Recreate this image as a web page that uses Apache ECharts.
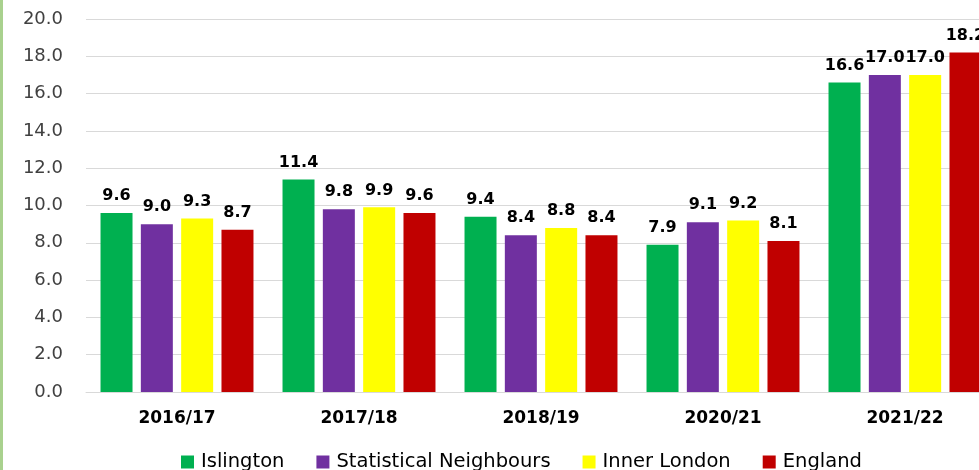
<!DOCTYPE html>
<html>
<head>
<meta charset="utf-8">
<script src="https://cdn.jsdelivr.net/npm/echarts@6/dist/echarts.min.js"></script>
<style>
  html, body { margin: 0; padding: 0; background: #fff; }
  #main { width: 979px; height: 470px; }
</style>
</head>
<body>
<div id="main"></div>
<script>
var years = ['2016/17', '2017/18', '2018/19', '2020/21', '2021/22'];
var islington = [9.6, 11.4, 9.4, 7.9, 16.6];
var statNeighbours = [9.0, 9.8, 8.4, 9.1, 17.0];
var innerLondon = [9.3, 9.9, 8.8, 9.2, 17.0];
var england = [8.7, 9.6, 8.4, 8.1, 18.2];

var font = 'DejaVu Sans';

function bar(name, data, color) {
    return {
        name: name,
        type: 'bar',
        data: data,
        barWidth: 32,
        barGap: '26%',
        itemStyle: { color: color },
        label: {
            show: true,
            position: 'top',
            distance: 9,
            formatter: function (p) { return p.value.toFixed(1); },
            fontFamily: font,
            fontWeight: 'bold',
            fontSize: 16,
            color: '#000'
        }
    };
}

var myChart = echarts.init(document.getElementById('main'));

var option = {
    animation: false,
    grid: { left: 86, right: -17, top: 19, bottom: 78, outerBoundsMode: 'none' },
    legend: {
        top: 447,
        left: 176,
        itemWidth: 13,
        itemHeight: 13,
        itemGap: 32,
        icon: 'rect',
        textStyle: { fontFamily: font, fontSize: 19.5, color: '#000', padding: [0, 0, 0, 2] },
        data: ['Islington', 'Statistical Neighbours', 'Inner London', 'England']
    },
    xAxis: {
        type: 'category',
        data: years,
        axisTick: { show: false },
        axisLine: { lineStyle: { color: '#d9d9d9', width: 1 } },
        axisLabel: {
            fontFamily: font,
            fontWeight: 'bold',
            fontSize: 17,
            color: '#000',
            margin: 18
        }
    },
    yAxis: {
        type: 'value',
        min: 0,
        max: 20,
        interval: 2,
        axisLabel: {
            fontFamily: font,
            fontSize: 18,
            color: '#404040',
            margin: 23,
            formatter: function (v) { return v.toFixed(1); }
        },
        splitLine: { lineStyle: { color: '#d9d9d9', width: 1 } }
    },
    graphic: [{
        type: 'rect',
        left: 0,
        top: 0,
        shape: { width: 3, height: 470 },
        style: { fill: '#a9d18e' }
    }],
    series: [
        bar('Islington', islington, '#00b050'),
        bar('Statistical Neighbours', statNeighbours, '#7030a0'),
        bar('Inner London', innerLondon, '#ffff00'),
        bar('England', england, '#c00000')
    ]
};

myChart.setOption(option);
</script>
</body>
</html>
